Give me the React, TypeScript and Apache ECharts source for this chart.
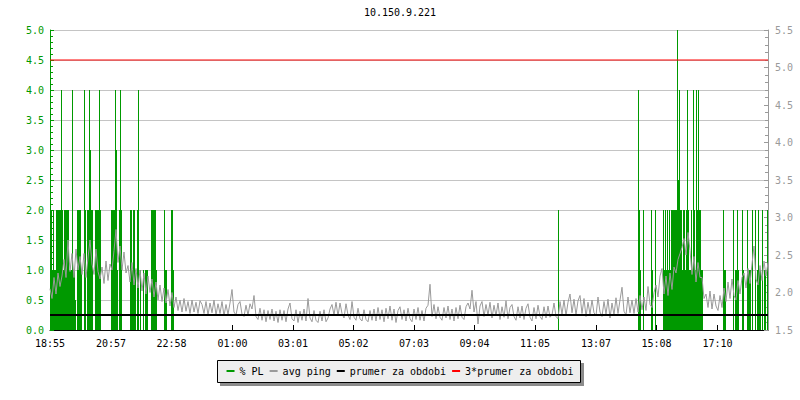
import React, { useEffect, useRef } from "react";
import * as echarts from "echarts";

const chartTitle = "10.150.9.221";
const tickLabels = ["18:55", "20:57", "22:58", "01:00", "03:01", "05:02", "07:03", "09:04", "11:05", "13:07", "15:08", "17:10"];
// minutes after 18:55
const tickMinutes = [0, 122, 243, 365, 486, 607, 728, 849, 970, 1092, 1213, 1335];
const spanMinutes = 1436;
const pingStepMinutes = 4;

// avg ping (ms), one sample every 4 minutes from 18:55
const avgPing = [
  2.05, 1.92, 2.2, 1.98, 2.26, 2.08,
  2.22, 2.44, 2.2, 2.7, 2.28, 2.52, 2.2, 2.58, 2.3, 2.48,
  2.24, 2.52, 2.2, 2.46, 2.7, 2.38, 2.24, 2.58, 2.28, 2.18,
  2.34, 2.12, 2.42, 2.16, 2.38,
  2.3, 2.56, 2.84, 2.4, 2.62, 2.3, 2.54, 2.26,
  2.36, 2.14, 2.4, 2.1, 2.32, 2.06, 2.3, 2.02, 2.26, 1.98, 2.22, 2.0,
  2.18, 1.94, 2.14, 1.9, 2.1, 1.88, 2.06, 1.86, 2.04, 1.82, 2.0, 1.8,
  1.94, 1.76, 1.9, 1.74, 1.92, 1.75, 1.88, 1.72, 1.9, 1.74, 1.87, 1.72, 1.89,
  1.84, 1.72, 1.88, 1.7, 1.86, 1.73, 1.9, 1.7, 1.85, 1.72, 1.88, 1.69, 1.84, 1.71, 1.86, 2.04, 1.74, 1.7, 1.84, 1.88, 1.71, 1.68, 1.83, 1.7, 1.85,
  1.78, 1.96, 1.68, 1.64, 1.79, 1.63, 1.77, 1.61, 1.76, 1.64,
  1.78, 1.62, 1.75, 1.6, 1.77, 1.63, 1.76, 1.61, 1.78, 1.86,
  1.65, 1.62, 1.77, 1.6, 1.75, 1.63, 1.78, 1.62, 1.92, 1.66,
  1.61, 1.76, 1.63, 1.6, 1.75, 1.62, 1.77, 1.61, 1.66, 1.78,
  1.84, 1.7, 1.87, 1.69, 1.86, 1.72, 1.66, 1.85, 1.7, 1.64,
  1.88, 1.67, 1.63, 1.79, 1.65, 1.62, 1.77, 1.64, 1.61, 1.76,
  1.63, 1.78, 1.62, 1.8, 1.64, 1.77, 1.61, 1.79, 1.65, 1.82,
  1.63, 1.78, 1.6, 1.76, 1.81, 1.64, 1.77, 1.62, 1.79, 1.65,
  1.61, 1.78, 1.64, 1.8, 1.63, 1.76, 1.62, 1.79, 1.83, 2.11,
  1.68, 1.84, 1.65, 1.81, 1.67, 1.63, 1.8, 1.66, 1.82, 1.64,
  1.78, 1.62, 1.8, 1.65, 1.83, 1.67, 1.64, 1.81, 1.86, 1.78,
  2.03, 1.74, 1.88, 1.58, 1.82, 1.88, 1.68, 1.84, 1.7, 1.87,
  1.66, 1.83, 1.69, 1.86, 1.64, 1.81, 1.67, 1.89, 1.65, 1.8,
  1.84, 1.68, 1.63, 1.81, 1.66, 1.82, 1.64, 1.79, 1.85, 1.67,
  1.62, 1.8, 1.65, 1.83, 1.68, 1.64, 1.81, 1.66, 1.82, 1.67,
  1.7, 1.86, 1.68, 1.65, 1.88, 1.71, 1.9, 1.69, 1.87, 1.98,
  1.73, 1.91, 1.7, 1.89, 1.96, 1.72, 1.92, 1.68, 1.87, 1.71,
  1.9, 1.73, 1.69, 1.94, 1.74, 1.68, 1.88, 1.71, 1.91, 1.66,
  1.86, 1.7, 1.93, 1.72, 1.9, 2.07, 1.75, 1.7, 1.94, 1.73,
  1.9, 1.72, 1.92, 1.74, 1.96, 1.77, 1.94, 1.76, 2.08, 1.84, 1.8, 2.0, 2.1, 1.94, 2.22, 2.32,
  1.98, 2.22, 1.96, 2.26, 2.04,
  2.34, 2.26, 2.44, 2.52, 2.6, 2.72, 2.5, 2.8,
  2.56, 2.24, 2.48, 2.14, 2.4, 2.2, 2.2,
  1.92, 1.98, 1.8, 2.02, 1.78, 1.98, 1.82, 1.76, 1.96, 1.8,
  2.06, 1.88, 2.14, 1.92, 2.18, 1.96, 1.9, 2.16, 1.98, 2.2,
  2.26, 2.06, 2.32, 2.12, 2.38, 2.62, 2.18, 2.1, 2.36, 2.16, 2.42, 2.22, 2.4,
];

// % packet loss: [minutes after 18:55, %]
const packetLoss: [number, number][] = [
  [1, 2], [3, 2], [5, 1], [7, 2], [9, 1], [11, 1], [13, 2], [15, 2], [17, 2], [19, 2],
  [21, 2], [23, 4], [25, 2], [27, 1], [29, 2], [31, 2], [33, 2], [35, 2], [37, 2], [39, 1],
  [41, 1], [43, 1], [45, 4], [47, 1], [49, 1], [51, 0.5], [55, 2], [57, 2], [59, 2], [61, 2],
  [63, 1], [69, 4], [71, 2], [75, 2], [77, 2], [79, 4], [81, 3], [83, 2], [85, 2], [91, 2],
  [93, 2], [95, 2], [97, 2], [99, 4], [101, 2], [123, 2], [125, 2], [127, 2], [129, 2], [131, 4],
  [133, 3], [135, 1], [139, 2], [141, 4], [143, 2], [161, 2], [163, 2], [165, 1], [167, 2], [169, 2],
  [171, 1], [175, 2], [177, 4], [181, 1], [187, 1], [191, 1], [193, 1], [195, 1], [203, 2], [205, 2],
  [207, 2], [209, 2], [211, 2], [213, 1], [229, 2], [231, 1], [233, 1], [243, 2], [245, 2], [247, 1],
  [1017, 2],
  [1177, 4], [1179, 2], [1181, 1], [1187, 2], [1203, 2], [1205, 1], [1211, 2],
  [1227, 2], [1229, 1], [1231, 2], [1233, 1], [1235, 2], [1237, 1], [1239, 2], [1241, 1], [1243, 2], [1245, 2],
  [1247, 2], [1249, 2], [1251, 2], [1253, 2], [1255, 5], [1257, 2.5], [1259, 4], [1261, 2], [1263, 2], [1265, 1],
  [1267, 2], [1269, 2], [1271, 1], [1273, 2], [1275, 4], [1277, 2], [1279, 1], [1281, 1], [1283, 2], [1285, 1],
  [1287, 4], [1289, 2], [1291, 1], [1293, 4], [1295, 2], [1297, 4], [1299, 2], [1301, 2], [1303, 1], [1305, 1],
  [1347, 2], [1349, 1], [1351, 1], [1367, 2], [1371, 1], [1373, 1], [1375, 2], [1377, 1], [1385, 2], [1387, 1],
  [1395, 2], [1397, 1], [1399, 1], [1401, 1], [1405, 2], [1411, 2], [1415, 1], [1417, 2], [1419, 1], [1421, 1],
  [1425, 2], [1429, 1], [1431, 1], [1435, 2],
];

const prumer = 1.7;
const triplePrumer = 5.1;

const FONT = "DejaVu Sans Mono";
const GREEN = "#009900";
const GRAY = "#9a9a9a";

export default function App() {
  const ref = useRef<HTMLDivElement>(null);
  useEffect(() => {
    if (!ref.current) return;
    const chart = echarts.init(ref.current, undefined, { renderer: "svg" });
    const pingData = avgPing.map((v, i) => [i * pingStepMinutes, v]);
    chart.setOption({
      animation: false,
      backgroundColor: "#ffffff",
      title: {
        text: chartTitle,
        left: "center",
        top: 7,
        padding: 0,
        textStyle: { fontFamily: FONT, fontSize: 10, fontWeight: "normal", color: "#000" },
      },
      grid: { left: 50, right: 32, top: 30, bottom: 70, containLabel: false },
      graphic: [
        { type: "rect", z: 0, shape: { x: 220, y: 363, width: 364, height: 23 }, style: { fill: "#8c8c8c" } },
        { type: "rect", z: 1, shape: { x: 217.5, y: 360.5, width: 363, height: 22 }, style: { fill: "#eeeeee", stroke: "#000", lineWidth: 1 } },
      ],
      legend: {
        z: 10,
        left: "center",
        top: 366,
        padding: 0,
        icon: "rect",
        itemWidth: 8,
        itemHeight: 2,
        itemGap: 6,
        selectedMode: false,
        textStyle: { fontFamily: FONT, fontSize: 10, color: "#000" },
        data: ["% PL", "avg ping", "prumer za obdobi", "3*prumer za obdobi"],
      },
      xAxis: {
        type: "value",
        min: 0,
        max: spanMinutes,
        axisLine: { show: true, lineStyle: { color: "#000", width: 1 } },
        axisTick: { show: true, inside: true, length: 5, customValues: tickMinutes, lineStyle: { color: "#000" } },
        axisLabel: {
          customValues: tickMinutes,
          formatter: (v: number) => {
            const i = tickMinutes.indexOf(v);
            return i >= 0 ? tickLabels[i] : "";
          },
          fontFamily: FONT,
          fontSize: 10,
          color: "#000",
          margin: 8,
        },
        splitLine: { show: false },
      },
      yAxis: [
        {
          type: "value",
          min: 0,
          max: 5,
          interval: 0.5,
          position: "left",
          axisLine: { show: true, lineStyle: { color: GREEN, width: 1 } },
          axisTick: { show: true, inside: true, length: 4, lineStyle: { color: GREEN } },
          minorTick: { show: true, splitNumber: 5, length: 3, lineStyle: { color: GREEN } },
          axisLabel: { formatter: (v: number) => v.toFixed(1), fontFamily: FONT, fontSize: 10, color: GREEN, margin: 6 },
          splitLine: { show: true, lineStyle: { color: "#c4c4c4", width: 1 } },
        },
        {
          type: "value",
          min: 1.5,
          max: 5.5,
          interval: 0.5,
          position: "right",
          axisLine: { show: true, lineStyle: { color: GRAY, width: 1 } },
          axisTick: { show: true, inside: true, length: 4, lineStyle: { color: GRAY } },
          minorTick: { show: true, splitNumber: 5, length: 3, lineStyle: { color: GRAY } },
          axisLabel: { formatter: (v: number) => v.toFixed(1), fontFamily: FONT, fontSize: 10, color: GRAY, margin: 7 },
          splitLine: { show: false },
        },
      ],
      series: [
        {
          name: "% PL",
          type: "custom",
          yAxisIndex: 0,
          data: packetLoss,
          itemStyle: { color: GREEN },
          encode: { x: 0, y: 1 },
          renderItem: (params: any, api: any) => {
            const top = api.coord([api.value(0), api.value(1)]);
            const base = api.coord([api.value(0), 0]);
            const x = Math.floor(top[0]);
            const y = Math.round(top[1]);
            return {
              type: "rect",
              shape: { x, y, width: 1, height: Math.round(base[1]) - y },
              style: { fill: GREEN },
            };
          },
        },
        {
          name: "avg ping",
          type: "line",
          yAxisIndex: 1,
          data: pingData,
          symbol: "none",
          lineStyle: { color: GRAY, width: 1 },
          itemStyle: { color: GRAY },
        },
        {
          name: "prumer za obdobi",
          type: "line",
          yAxisIndex: 1,
          data: [[0, prumer], [spanMinutes, prumer]],
          symbol: "none",
          lineStyle: { color: "#000", width: 2 },
          itemStyle: { color: "#000" },
        },
        {
          name: "3*prumer za obdobi",
          type: "line",
          yAxisIndex: 1,
          data: [[0, triplePrumer], [spanMinutes, triplePrumer]],
          symbol: "none",
          lineStyle: { color: "#ff0000", width: 1 },
          itemStyle: { color: "#ff0000" },
        },
      ],
    });
    return () => chart.dispose();
  }, []);
  return <div ref={ref} style={{ position: "fixed", left: 0, top: 0, width: 800, height: 400 }} />;
}
